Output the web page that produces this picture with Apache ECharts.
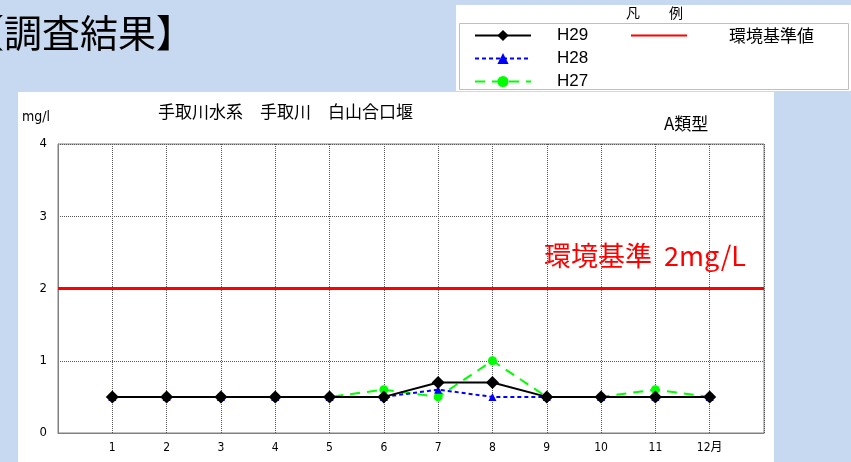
<!DOCTYPE html>
<html>
<head>
<meta charset="utf-8">
<script src="https://cdn.jsdelivr.net/npm/echarts@6/dist/echarts.min.js"></script>
<style>
  html, body { margin: 0; padding: 0; background: #c6d9f0; }
  #chart { width: 851px; height: 462px; }
</style>
</head>
<body>
<div id="chart"></div>
<script>
// Months on the x axis (value axis, 0 and 13 act as padding)
const months = [1, 2, 3, 4, 5, 6, 7, 8, 9, 10, 11, 12];
const monthLabels = ['1', '2', '3', '4', '5', '6', '7', '8', '9', '10', '11', '12月'];
const yTicks = [0, 1, 2, 3, 4];

// BOD (mg/l) per month
const h29 = [0.5, 0.5, 0.5, 0.5, 0.5, 0.5, 0.7, 0.7, 0.5, 0.5, 0.5, 0.5];
const h28 = [0.5, 0.5, 0.5, 0.5, 0.5, 0.5, 0.6, 0.5, 0.5, 0.5, 0.5, 0.5];
const h27 = [0.5, 0.5, 0.5, 0.5, 0.5, 0.6, 0.5, 1.0, 0.5, 0.5, 0.6, 0.5];

// Environmental standard (A type)
const standardValue = 2;
const xMin = 0, xMax = 13;

const pair = (vals) => months.map((m, i) => [m, vals[i]]);
const FONT = '"Noto Sans CJK JP", "Noto Sans", sans-serif';
const NARROW = '"Liberation Sans Narrow", "DejaVu Sans Condensed", "Noto Sans CJK JP", sans-serif';

const chart = echarts.init(document.getElementById('chart'), null, { renderer: 'canvas' });

chart.setOption({
  animation: false,
  backgroundColor: '#c6d9f0',
  graphic: [
    // white chart panel
    { type: 'rect', z: -10, shape: { x: 18, y: 92, width: 756, height: 380 }, style: { fill: '#ffffff' } },
    // legend panel
    { type: 'rect', z: -10, shape: { x: 456, y: 5, width: 400, height: 86 }, style: { fill: '#ffffff' } },
    { type: 'rect', z: -9, shape: { x: 459.5, y: 23.5, width: 389, height: 66 }, style: { fill: 'none', stroke: '#bfbfbf', lineWidth: 1 } },
    { type: 'text', style: { x: 626, y: 13, text: '凡', font: '14px ' + FONT, fill: '#000', textVerticalAlign: 'middle' } },
    { type: 'text', style: { x: 669, y: 13, text: '例', font: '14px ' + FONT, fill: '#000', textVerticalAlign: 'middle' } },
    // heading
    { type: 'text', style: { x: 194, y: 33, text: '【調査結果】', font: '38px ' + FONT, fill: '#000', textAlign: 'right', textVerticalAlign: 'middle' } },
    // chart title and notes
    { type: 'text', style: { x: 158, y: 112, text: '手取川水系　手取川　白山合口堰', font: '17px ' + FONT, fill: '#000', textVerticalAlign: 'middle' } },
    { type: 'text', style: { x: 664, y: 124, text: 'A類型', font: '17px ' + FONT, fill: '#000', textVerticalAlign: 'middle' } },
    { type: 'text', style: { x: 22, y: 117, text: 'mg/l', font: '14px ' + NARROW, fill: '#000', textVerticalAlign: 'middle' } },
    { type: 'text', style: { x: 544, y: 256, text: '環境基準  2mg/L', font: '27px ' + FONT, fill: '#ff0000', textVerticalAlign: 'middle' } }
  ],
  legend: [
    {
      data: ['H29', 'H28', 'H27'],
      orient: 'vertical',
      left: 469, top: 22,
      itemWidth: 56, itemHeight: 14, itemGap: 6,
      textStyle: { fontSize: 17, fontFamily: 'Liberation Sans, sans-serif', color: '#000', padding: [0, 0, 0, 21] },
      selectedMode: false
    },
    {
      data: ['環境基準値'],
      left: 625, top: 22,
      itemWidth: 56, itemHeight: 14,
      itemStyle: { opacity: 0 },
      textStyle: { fontSize: 17, fontFamily: FONT, color: '#000', padding: [0, 0, 0, 37] },
      selectedMode: false
    }
  ],
  grid: { left: 58, right: 87, top: 144, bottom: 29, show: true, borderColor: '#808080', borderWidth: 1 },
  xAxis: {
    type: 'value', min: xMin, max: xMax, interval: 1,
    axisLine: { show: true, lineStyle: { color: '#808080' } },
    axisTick: { show: false },
    splitLine: { show: true, lineStyle: { color: '#555', type: [1, 1], width: 1 } },
    axisLabel: {
      margin: 9, fontSize: 12, fontFamily: NARROW, color: '#000',
      formatter: (v) => (v >= 1 && v <= 12) ? monthLabels[v - 1] : ''
    }
  },
  yAxis: {
    type: 'value', min: yTicks[0], max: yTicks[yTicks.length - 1], interval: 1,
    axisLine: { show: true, lineStyle: { color: '#808080' } },
    axisTick: { show: false },
    splitLine: { show: true, lineStyle: { color: '#555', type: [1, 1], width: 1 } },
    axisLabel: { margin: 11, fontSize: 13, fontFamily: NARROW, color: '#000' }
  },
  series: [
    {
      name: '環境基準値', type: 'line', silent: true, z: 1,
      data: [[xMin, standardValue], [xMax, standardValue]],
      symbol: 'none', lineStyle: { color: '#ff0000', width: 3 }, itemStyle: { color: '#ff0000' }
    },
    {
      name: 'H27', type: 'line', z: 2, data: pair(h27),
      symbol: 'circle', symbolSize: 9,
      lineStyle: { color: '#00ff00', width: 2, type: [10, 7] },
      itemStyle: { color: '#00ff00' }
    },
    {
      name: 'H28', type: 'line', z: 3, data: pair(h28),
      symbol: 'triangle', symbolSize: 8,
      lineStyle: { color: '#0000ff', width: 2, type: [4, 3] },
      itemStyle: { color: '#0000ff' }
    },
    {
      name: 'H29', type: 'line', z: 4, data: pair(h29),
      symbol: 'diamond', symbolSize: 13,
      lineStyle: { color: '#000000', width: 2 },
      itemStyle: { color: '#000000' }
    }
  ]
});
</script>
</body>
</html>
